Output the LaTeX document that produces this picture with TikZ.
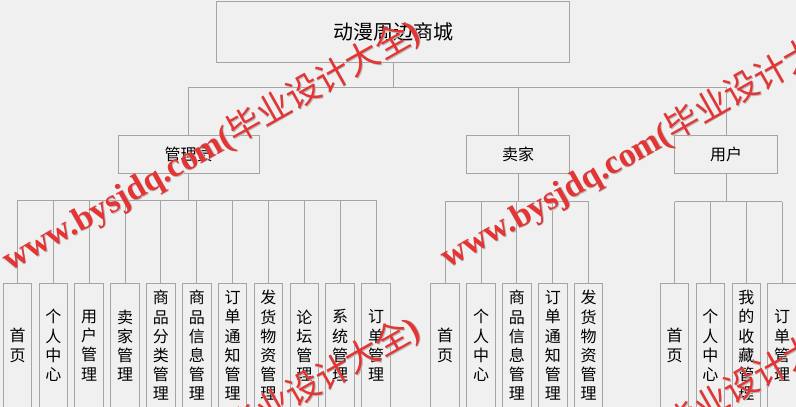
\documentclass[tikz,border=0pt]{standalone}
\usepackage{fontspec}
\setmainfont{Liberation Serif}
\newfontfamily\cjk{Noto Sans CJK SC}
\newfontfamily\wmfont{Liberation Serif}
\definecolor{bgcol}{RGB}{240,240,240}
\definecolor{linecol}{RGB}{165,165,165}
\definecolor{wmred}{RGB}{228,52,52}
\tikzset{
  box/.style={draw=linecol, fill=bgcol, inner sep=0pt, line width=1pt,
    font=\cjk\fontsize{16}{19.2}\selectfont},
  topbox/.style={box, minimum width=353pt, minimum height=61pt,
    font=\cjk\fontsize{20}{24}\selectfont},
  rolebox/.style={box, minimum height=38pt},
  leafbox/.style={box, minimum width=28.5pt, minimum height=124pt,
    anchor=north, align=center},
  wire/.style={draw=linecol, line width=1pt},
  wmark/.style={text=wmred, font=\wmfont\bfseries\fontsize{34}{34}\selectfont,
    rotate=29.5, anchor=base west, inner sep=0pt}
}

\begin{document}
\begin{tikzpicture}[x=1pt,y=-1pt]
  \clip (0,0) rectangle (796,407);
  \fill[bgcol] (0,0) rectangle (796,407);

  % draw root and role boxes
  \node[topbox] (shop) at (393.2,31.5) {动漫周边商城};
  \node[rolebox, minimum width=141pt] (admin) at (188.5,154) {管理员};
  \node[rolebox, minimum width=103pt] (seller) at (518.2,154) {卖家};
  \node[rolebox, minimum width=103pt] (user) at (726.2,154) {用户};

  % draw leaf boxes
  \foreach \t [count=\i] in {首\\页, 个\\人\\中\\心, 用\\户\\管\\理, 卖\\家\\管\\理,
      商\\品\\分\\类\\管\\理, 商\\品\\信\\息\\管\\理, 订\\单\\通\\知\\管\\理,
      发\\货\\物\\资\\管\\理, 论\\坛\\管\\理, 系\\统\\管\\理, 订\\单\\管\\理}
    \node[leafbox] (a\i) at ({17.5+35.85*(\i-1)},283) {\t};
  \foreach \t [count=\i] in {首\\页, 个\\人\\中\\心, 商\\品\\信\\息\\管\\理,
      订\\单\\通\\知\\管\\理, 发\\货\\物\\资\\管\\理}
    \node[leafbox] (s\i) at ({445.2+35.85*(\i-1)},283) {\t};
  \foreach \t [count=\i] in {首\\页, 个\\人\\中\\心, 我\\的\\收\\藏\\管\\理, 订\\单\\管\\理}
    \node[leafbox] (u\i) at ({674.6+35.85*(\i-1)},283) {\t};

  % draw connectors from the root
  \coordinate (rootbus) at (393.2,87);
  \draw[wire] (shop.south) -- (rootbus);
  \draw[wire] (rootbus -| admin.north) -- (rootbus -| user.north);
  \foreach \r in {admin,seller,user}
    \draw[wire] (rootbus -| \r.north) -- (\r.north);

  % draw connectors to the leaves
  \coordinate (abus) at (188.5,200);
  \coordinate (sbus) at (518.2,201.5);
  \coordinate (ubus) at (726.2,201.5);
  \draw[wire] (admin.south) -- (abus);
  \draw[wire] (seller.south) -- (sbus);
  \draw[wire] (user.south) -- (ubus);
  \draw[wire] (abus -| a1.north) -- (abus -| a11.north);
  \draw[wire] (sbus -| s1.north) -- (sbus -| s5.north);
  \draw[wire] (ubus -| u1.north) -- (ubus -| u4.north);
  \foreach \i in {1,...,11}
    \draw[wire] (abus -| a\i.north) -- (a\i.north);
  \foreach \i in {1,...,5}
    \draw[wire] (sbus -| s\i.north) -- (s\i.north);
  \foreach \i in {1,...,4}
    \draw[wire] (ubus -| u\i.north) -- (u\i.north);

  % draw watermarks
  \foreach \dx/\dy [count=\k] in {0/0, 438/-3, 0/297, 438/294} {
    \node[wmark, text=gray!55] (wms\k) at (10.8+\dx,272.8+\dy)
      {www.bysjdq.com({\cjk\mdseries 毕业设计大全})};
    \node[wmark] (wm\k) at (10+\dx,272+\dy)
      {www.bysjdq.com({\cjk\mdseries 毕业设计大全})};
  }
\end{tikzpicture}
\end{document}
